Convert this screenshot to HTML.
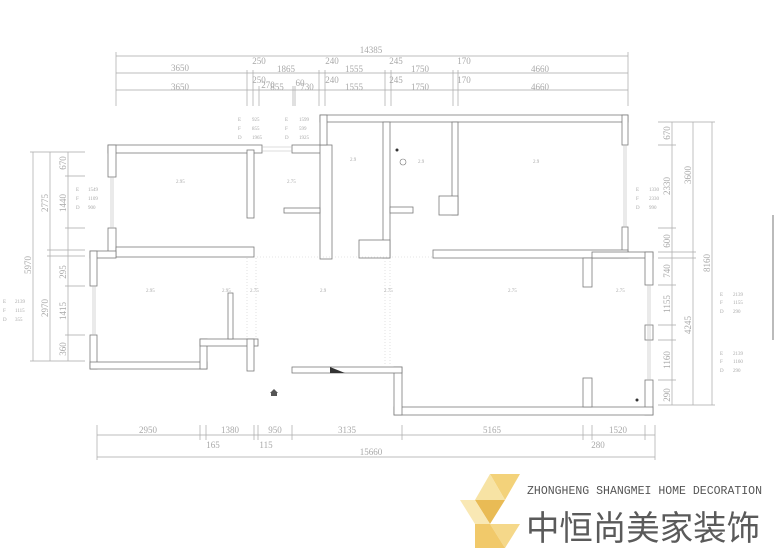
<!DOCTYPE html>
<html><head><meta charset="utf-8"><style>
html,body{margin:0;padding:0;background:#fff;}
svg{display:block;}
text{font-family:"Liberation Serif",serif;fill:#a8a8a8;}
.d{font-size:9px;fill:#aaa;}
.t{font-size:5px;fill:#777;font-family:"Liberation Sans",sans-serif;}
</style></head><body>
<svg width="774" height="551" viewBox="0 0 774 551" xmlns="http://www.w3.org/2000/svg">
<g stroke="#a8a8a8" stroke-width="0.7" fill="none">
<line x1="116" y1="56" x2="628" y2="56"/>
<line x1="116" y1="73" x2="628" y2="73"/>
<line x1="116" y1="90" x2="628" y2="90"/>
<line x1="116" y1="52" x2="116" y2="106"/><line x1="628" y1="52" x2="628" y2="106"/>
<line x1="247" y1="70" x2="247" y2="106"/><line x1="253" y1="70" x2="253" y2="106"/><line x1="259" y1="86" x2="259" y2="106"/>
<line x1="293" y1="86" x2="293" y2="106"/><line x1="295" y1="86" x2="295" y2="106"/>
<line x1="319" y1="70" x2="319" y2="106"/><line x1="325" y1="70" x2="325" y2="106"/>
<line x1="385" y1="70" x2="385" y2="106"/><line x1="391" y1="70" x2="391" y2="106"/>
<line x1="453" y1="70" x2="453" y2="106"/><line x1="458" y1="70" x2="458" y2="106"/>
<line x1="33" y1="152" x2="33" y2="361"/><line x1="50" y1="152" x2="50" y2="361"/><line x1="68" y1="152" x2="68" y2="361"/>
<line x1="30" y1="152" x2="85" y2="152"/><line x1="30" y1="361" x2="85" y2="361"/>
<line x1="47" y1="250" x2="85" y2="250"/><line x1="47" y1="256" x2="85" y2="256"/>
<line x1="65" y1="176" x2="85" y2="176"/><line x1="65" y1="228" x2="85" y2="228"/>
<line x1="65" y1="286" x2="85" y2="286"/><line x1="65" y1="335" x2="85" y2="335"/>
<line x1="672" y1="122" x2="672" y2="405"/><line x1="693" y1="122" x2="693" y2="405"/><line x1="712" y1="122" x2="712" y2="405"/>
<line x1="658" y1="122" x2="715" y2="122"/><line x1="658" y1="405" x2="715" y2="405"/>
<line x1="658" y1="145" x2="676" y2="145"/><line x1="658" y1="228" x2="676" y2="228"/>
<line x1="658" y1="252" x2="696" y2="252"/><line x1="658" y1="258" x2="696" y2="258"/>
<line x1="658" y1="285" x2="676" y2="285"/><line x1="658" y1="325" x2="676" y2="325"/>
<line x1="658" y1="340" x2="676" y2="340"/><line x1="658" y1="380" x2="676" y2="380"/>
<line x1="97" y1="435" x2="655" y2="435"/><line x1="97" y1="457" x2="655" y2="457"/>
<line x1="97" y1="425" x2="97" y2="460"/><line x1="200" y1="425" x2="200" y2="440"/><line x1="206" y1="425" x2="206" y2="440"/>
<line x1="254" y1="425" x2="254" y2="440"/><line x1="258" y1="425" x2="258" y2="440"/><line x1="292" y1="425" x2="292" y2="440"/>
<line x1="402" y1="425" x2="402" y2="440"/><line x1="583" y1="425" x2="583" y2="440"/><line x1="592" y1="425" x2="592" y2="440"/>
<line x1="645" y1="425" x2="645" y2="440"/><line x1="655" y1="425" x2="655" y2="460"/>
</g>
<g class="d" text-anchor="middle">
<text x="371" y="53">14385</text>
<text x="180" y="71">3650</text><text x="259" y="64">250</text><text x="286" y="72">1865</text>
<text x="332" y="64">240</text><text x="354" y="72">1555</text><text x="396" y="64">245</text><text x="420" y="72">1750</text>
<text x="464" y="64">170</text><text x="540" y="72">4660</text>
<text x="180" y="90">3650</text><text x="259" y="83">250</text><text x="268" y="88">270</text><text x="277" y="90">855</text><text x="300" y="86">60</text><text x="307" y="90">730</text>
<text x="332" y="83">240</text><text x="354" y="90">1555</text><text x="396" y="83">245</text><text x="420" y="90">1750</text>
<text x="464" y="83">170</text><text x="540" y="90">4660</text>
<text x="148" y="433">2950</text><text x="230" y="433">1380</text><text x="275" y="433">950</text><text x="347" y="433">3135</text><text x="492" y="433">5165</text><text x="618" y="433">1520</text>
<text x="213" y="448">165</text><text x="266" y="448">115</text><text x="598" y="448">280</text>
<text x="371" y="455">15660</text>
</g>
<g class="d" text-anchor="middle">
<text transform="translate(31,265) rotate(-90)">5970</text>
<text transform="translate(48,203) rotate(-90)">2775</text>
<text transform="translate(48,308) rotate(-90)">2970</text>
<text transform="translate(66,163) rotate(-90)">670</text>
<text transform="translate(66,203) rotate(-90)">1440</text>
<text transform="translate(66,272) rotate(-90)">295</text>
<text transform="translate(66,311) rotate(-90)">1415</text>
<text transform="translate(66,349) rotate(-90)">360</text>
<text transform="translate(670,133) rotate(-90)">670</text>
<text transform="translate(670,186) rotate(-90)">2330</text>
<text transform="translate(670,241) rotate(-90)">600</text>
<text transform="translate(670,271) rotate(-90)">740</text>
<text transform="translate(670,304) rotate(-90)">1155</text>
<text transform="translate(670,360) rotate(-90)">1160</text>
<text transform="translate(670,395) rotate(-90)">290</text>
<text transform="translate(691,175) rotate(-90)">3600</text>
<text transform="translate(691,325) rotate(-90)">4245</text>
<text transform="translate(710,263) rotate(-90)">8160</text>
</g>
<g stroke="#7a7a7a" stroke-width="0.8" fill="#fff">
<rect x="108" y="145" width="154" height="8"/>
<rect x="108" y="145" width="8" height="32"/><rect x="108" y="228" width="8" height="24"/>
<rect x="247" y="150" width="7" height="68"/>
<rect x="116" y="247" width="138" height="10"/>
<rect x="90" y="251" width="26" height="7"/>
<rect x="90" y="251" width="7" height="35"/><rect x="90" y="335" width="7" height="34"/>
<rect x="90" y="362" width="117" height="7"/>
<rect x="200" y="339" width="7" height="30"/>
<rect x="200" y="339" width="58" height="7"/>
<rect x="247" y="339" width="7" height="32"/>
<rect x="228" y="293" width="5" height="46"/>
<rect x="292" y="145" width="30" height="8"/>
<rect x="320" y="145" width="12" height="114"/>
<rect x="284" y="208" width="36" height="5"/>
<rect x="320" y="115" width="308" height="7"/>
<rect x="320" y="115" width="7" height="30"/>
<rect x="383" y="122" width="7" height="136"/>
<rect x="359" y="240" width="31" height="18"/>
<rect x="452" y="122" width="6" height="93"/>
<rect x="439" y="196" width="19" height="19"/>
<rect x="390" y="207" width="23" height="6"/>
<rect x="622" y="115" width="6" height="30"/>
<rect x="622" y="227" width="6" height="25"/>
<rect x="433" y="250" width="195" height="8"/>
<rect x="592" y="252" width="61" height="6"/>
<rect x="583" y="258" width="9" height="29"/>
<rect x="645" y="252" width="8" height="33"/>
<rect x="645" y="325" width="8" height="15"/>
<rect x="645" y="380" width="8" height="35"/>
<rect x="394" y="407" width="259" height="8"/>
<rect x="394" y="367" width="8" height="48"/>
<rect x="292" y="367" width="110" height="6"/>
<rect x="583" y="378" width="9" height="29"/>
</g>
<g stroke="#bbb" stroke-width="0.6" fill="none">
<line x1="111" y1="177" x2="111" y2="228"/><line x1="113" y1="177" x2="113" y2="228"/>
<line x1="93" y1="286" x2="93" y2="335"/><line x1="95" y1="286" x2="95" y2="335"/>
<line x1="624" y1="145" x2="624" y2="227"/><line x1="626" y1="145" x2="626" y2="227"/>
<line x1="648" y1="285" x2="648" y2="380"/><line x1="650" y1="285" x2="650" y2="380"/>
<line x1="262" y1="147" x2="292" y2="147"/><line x1="262" y1="151" x2="292" y2="151"/>
<g stroke-dasharray="1,2" stroke="#ccc">
<line x1="247" y1="258" x2="247" y2="339"/><line x1="256" y1="258" x2="256" y2="339"/>
<line x1="385" y1="258" x2="385" y2="367"/><line x1="390" y1="258" x2="390" y2="367"/>
<line x1="254" y1="257" x2="433" y2="257"/>
</g>
</g>
<polygon points="330,367 345,373 330,373" fill="#333"/>
<path d="M270,393 L274,389 L278,393 Z M271,393 h6 v3 h-6 Z" fill="#555"/>
<circle cx="397" cy="150" r="1.5" fill="#333"/><circle cx="403" cy="162" r="3" fill="none" stroke="#777" stroke-width="0.6"/>
<circle cx="637" cy="400" r="1.5" fill="#333"/>
<g class="t">
<text x="238" y="121">E</text><text x="252" y="121">925</text><text x="238" y="130">F</text><text x="252" y="130">855</text><text x="238" y="139">D</text><text x="252" y="139">1965</text>
<text x="285" y="121">E</text><text x="299" y="121">1599</text><text x="285" y="130">F</text><text x="299" y="130">599</text><text x="285" y="139">D</text><text x="299" y="139">1925</text>
<text x="76" y="191">E</text><text x="88" y="191">1549</text><text x="76" y="200">F</text><text x="88" y="200">1109</text><text x="76" y="209">D</text><text x="88" y="209">900</text>
<text x="3" y="303">E</text><text x="15" y="303">2139</text><text x="3" y="312">F</text><text x="15" y="312">1115</text><text x="3" y="321">D</text><text x="15" y="321">355</text>
<text x="636" y="191">E</text><text x="649" y="191">1330</text><text x="636" y="200">F</text><text x="649" y="200">2330</text><text x="636" y="209">D</text><text x="649" y="209">990</text>
<text x="720" y="296">E</text><text x="733" y="296">2139</text><text x="720" y="304">F</text><text x="733" y="304">1155</text><text x="720" y="313">D</text><text x="733" y="313">290</text>
<text x="720" y="355">E</text><text x="733" y="355">2139</text><text x="720" y="363">F</text><text x="733" y="363">1160</text><text x="720" y="372">D</text><text x="733" y="372">290</text>
<text x="176" y="183">2.95</text><text x="287" y="183">2.75</text><text x="350" y="161">2.9</text><text x="418" y="163">2.9</text><text x="533" y="163">2.9</text>
<text x="146" y="292">2.95</text><text x="222" y="292">2.95</text><text x="250" y="292">2.75</text><text x="320" y="292">2.9</text><text x="384" y="292">2.75</text><text x="508" y="292">2.75</text><text x="616" y="292">2.75</text>
</g>
<g fill="#bbb"><rect x="772" y="215" width="2" height="125"/></g>
<g>
<polygon points="490,474 520,474 505,500" fill="#f3d27a"/>
<polygon points="490,474 505,500 475,500" fill="#f7e3a4"/>
<polygon points="475,500 505,500 490,524" fill="#e9bb55"/>
<polygon points="460,500 475,500 490,524 475,524" fill="#f9e8b4"/>
<polygon points="490,524 520,524 505,548" fill="#f5d88a"/>
<polygon points="475,524 490,524 505,548 475,548" fill="#f1c96a"/>
</g>
<text x="527" y="494" textLength="235" lengthAdjust="spacingAndGlyphs" style="font-family:'Liberation Mono',monospace;font-size:12px;fill:#555">ZHONGHENG SHANGMEI HOME DECORATION</text>
<text x="526" y="540" textLength="234" lengthAdjust="spacingAndGlyphs" style="font-family:'Liberation Sans','Noto Sans CJK SC',sans-serif;font-size:34px;fill:#5a5a5a">中恒尚美家装饰</text>
</svg>
</body></html>
